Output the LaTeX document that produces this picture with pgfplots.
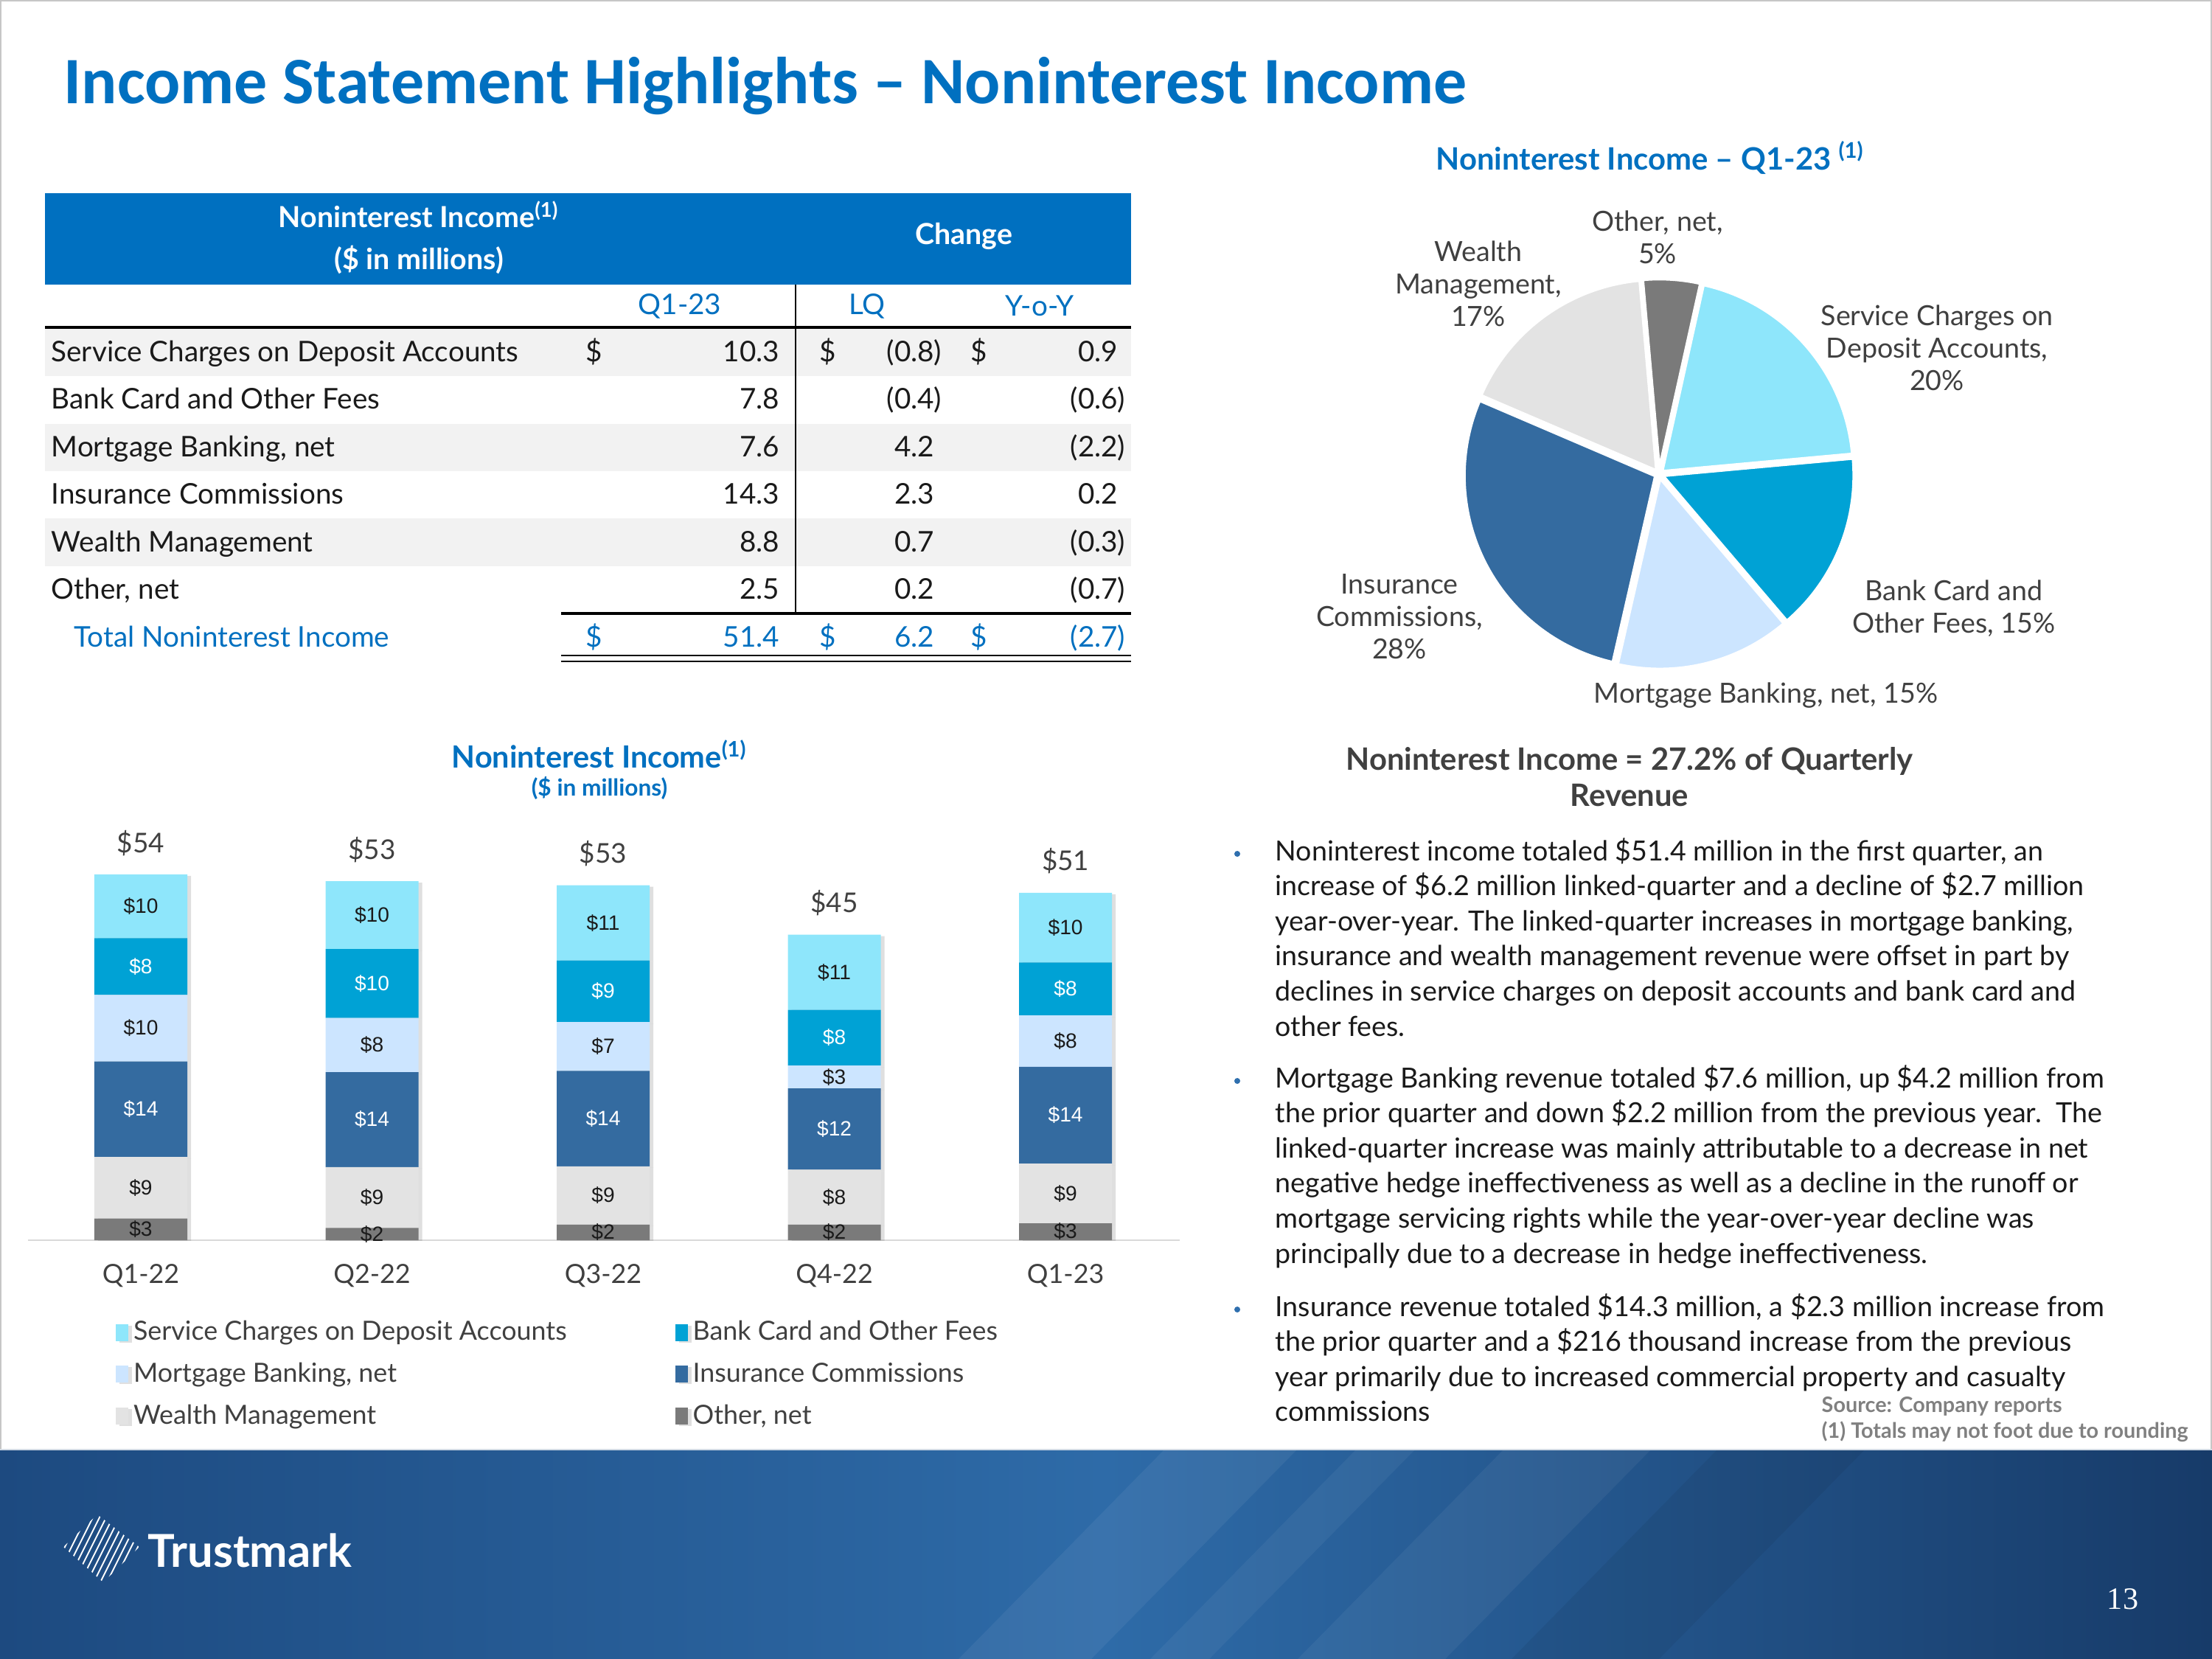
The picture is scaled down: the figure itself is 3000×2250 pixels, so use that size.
\documentclass[border=0pt]{standalone}
\usepackage{pgfplots}
\pgfplotsset{compat=1.18}
\usepackage{pgfplotstable}
\usepackage{fontspec}
\setmainfont{Lato}
\newfontfamily\calib{Carlito}
\newfontfamily\arialf{Liberation Sans}
\newfontfamily\serf{Liberation Serif}
\usetikzlibrary{shadows}

\definecolor{blueT}{HTML}{0070C0}
\definecolor{txt}{HTML}{1A1A1A}
\definecolor{txtgray}{HTML}{404040}
\definecolor{rowg}{HTML}{F2F2F2}
\definecolor{cSvc}{HTML}{8EE6FB}
\definecolor{cCard}{HTML}{00A2D5}
\definecolor{cMort}{HTML}{CCE5FF}
\definecolor{cIns}{HTML}{346BA0}
\definecolor{cWlth}{HTML}{E3E3E3}
\definecolor{cOth}{HTML}{7A7A7A}
\definecolor{axisgray}{HTML}{D9D9D9}
\definecolor{bnL}{HTML}{1D4A80}
\definecolor{bnM}{HTML}{2E6BA8}
\definecolor{bnR}{HTML}{173B69}
\definecolor{srcgray}{HTML}{808080}
\definecolor{bulletc}{HTML}{2F6FAE}

\newcommand\fsz[2]{\fontsize{#1pt}{#2pt}\selectfont}

% noninterest income by quarter, $ millions (x: 0=Q1-22 ... 4=Q1-23)
\pgfplotstableread{
x v lab
0 3.2 3
1 1.8 2
2 2.3 2
3 2.3 2
4 2.5 3
}\tOth
\pgfplotstableread{
x v lab
0 9.1 9
1 9.0 9
2 8.6 9
3 8.1 8
4 8.8 9
}\tWlth
\pgfplotstableread{
x v lab
0 14.1 14
1 14.0 14
2 14.1 14
3 12.0 12
4 14.3 14
}\tIns
\pgfplotstableread{
x v lab
0 9.8 10
1 8.0 8
2 7.2 7
3 3.4 3
4 7.6 8
}\tMort
\pgfplotstableread{
x v lab
0 8.4 8
1 10.2 10
2 9.1 9
3 8.2 8
4 7.8 8
}\tCard
\pgfplotstableread{
x v lab
0 9.4 10
1 10.0 10
2 11.1 11
3 11.1 11
4 10.3 10
}\tSvc
\pgfplotstableread{
x t lab
0 54.0 54
1 53.0 53
2 52.4 53
3 45.1 45
4 51.3 51
}\tTot

\pgfplotsset{
  seglab/.style={
    nodes near coords={\$\pgfplotspointmeta},
    point meta=explicit symbolic,
    every node near coord/.style={font=\arialf\fsz{8}{9.6}, text=#1, anchor=center}},
  segbar/.style={fill=#1, draw=none, drop shadow={shadow xshift=0.5mm, shadow yshift=-0.2mm, opacity=0.25}},
  barbox/.style={at={(3.8mm,-168.2mm)}, anchor=south west,
    scale only axis, width=156.2mm, height=64.3mm,
    ymin=0, ymax=70, xmin=-0.488, xmax=4.494},
}

\begin{document}
\begin{tikzpicture}
\begin{scope}[x=0.1mm, y=0.1mm]
\path[use as bounding box, fill=white] (0,0) rectangle (3000,-2250);
\draw[gray!45, line width=0.6pt] (1,-1965) -- (1,-1) -- (2999,-1) -- (2999,-1965);

% title
\node[anchor=base west, inner sep=0, text=blueT, font=\calib\bfseries\fsz{25.6}{30}] at (86,-141)
  {Income Statement Highlights – Noninterest Income};

% ---------------- table ----------------
\fill[blueT] (61,-262) rectangle (1534,-386);
\node[text=white, font=\bfseries\fsz{11.2}{13.4}] at (568,-291) {Noninterest Income\textsuperscript{(1)}};
\node[text=white, font=\bfseries\fsz{11.2}{13.4}] at (568,-352) {(\$ in millions)};
\node[text=white, font=\bfseries\fsz{11.2}{13.4}] at (1307,-320) {Change};
\begin{scope}[font=\fsz{11}{13.2}, text=blueT]
\node at (922,-415) {Q1-23};
\node at (1176,-415) {LQ};
\node at (1410,-415) {Y-o-Y};
\end{scope}
\fill[rowg] (61,-446) rectangle (1534,-510);
\fill[rowg] (61,-575) rectangle (1534,-639);
\fill[rowg] (61,-703) rectangle (1534,-768);
\draw[black, line width=1pt] (61,-444) -- (1534,-444);
\draw[black, line width=0.6pt] (1079,-386) -- (1079,-832);
\begin{scope}[font=\fsz{11}{13.2}, text=txt]
\foreach \lab/\q/\lq/\yy [count=\i from 0] in {
  {Service Charges on Deposit Accounts}/10.3/(0.8)/0.9\phantom{)},
  {Bank Card and Other Fees}/7.8/(0.4)/(0.6),
  {Mortgage Banking, net}/7.6/4.2\phantom{)}/(2.2),
  {Insurance Commissions}/14.3/2.3\phantom{)}/0.2\phantom{)},
  {Wealth Management}/8.8/0.7\phantom{)}/(0.3),
  {Other, net}/2.5/0.2\phantom{)}/(0.7)}{
  \node[anchor=base west, inner sep=0] at (69,{-(490+\i*64.5)}) {\lab};
  \node[anchor=base east, inner sep=0] at (1058,{-(490+\i*64.5)}) {\q};
  \node[anchor=base east, inner sep=0] at (1278,{-(490+\i*64.5)}) {\lq};
  \node[anchor=base east, inner sep=0] at (1527,{-(490+\i*64.5)}) {\yy};
}
\node[anchor=base west, inner sep=0] at (794,-490) {\$};
\node[anchor=base west, inner sep=0] at (1111,-490) {\$};
\node[anchor=base west, inner sep=0] at (1316,-490) {\$};
\end{scope}
\draw[black, line width=1pt] (761,-832) -- (1534,-832);
\begin{scope}[font=\fsz{11}{13.2}, text=blueT]
\node[anchor=base west, inner sep=0] at (100,-877) {Total Noninterest Income};
\node[anchor=base west, inner sep=0] at (794,-877) {\$};
\node[anchor=base west, inner sep=0] at (1111,-877) {\$};
\node[anchor=base west, inner sep=0] at (1316,-877) {\$};
\node[anchor=base east, inner sep=0] at (1058,-877) {51.4};
\node[anchor=base east, inner sep=0] at (1278,-877) {6.2\phantom{)}};
\node[anchor=base east, inner sep=0] at (1527,-877) {(2.7)};
\end{scope}
\draw[black, line width=0.6pt] (761,-889) -- (1534,-889);
\draw[black, line width=0.6pt] (761,-897) -- (1534,-897);

% chart titles
\node[text=blueT, font=\bfseries\fsz{11.8}{14}] at (813,-1023) {Noninterest Income\textsuperscript{(1)}};
\node[text=blueT, font=\bfseries\fsz{9}{11}] at (813,-1069) {(\$ in millions)};
\node[text=blueT, font=\bfseries\fsz{11.9}{14}] at (2238,-214) {Noninterest Income – Q1-23 \textsuperscript{(1)}};

% pie labels
\begin{scope}[font=\fsz{10.7}{12.5}, text=txtgray, align=center]
\node at (2248,-322) {Other, net,\\5\%};
\node at (2005,-385) {Wealth\\Management,\\17\%};
\node at (2627,-472) {Service Charges on\\Deposit Accounts,\\20\%};
\node at (2650,-825) {Bank Card and\\Other Fees, 15\%};
\node at (2395,-943) {Mortgage Banking, net, 15\%};
\node at (1898,-836) {Insurance\\Commissions,\\28\%};
\end{scope}

\node[text=txtgray, font=\bfseries\fsz{11.9}{14}, align=center] at (2210,-1054)
  {Noninterest Income = 27.2\% of Quarterly\\Revenue};

% ---------------- bullets ----------------
\begin{scope}[font=\fsz{10.7}{13.5}, text=txt]
\foreach \t [count=\i from 0] in {
  {Noninterest income totaled \$51.4 million in the first quarter, an},
  {increase of \$6.2 million linked-quarter and a decline of \$2.7 million},
  {year-over-year. The linked-quarter increases in mortgage banking,},
  {insurance and wealth management revenue were offset in part by},
  {declines in service charges on deposit accounts and bank card and},
  {other fees.}}
  \node[anchor=base west, inner sep=0] at (1729,{-(1167+\i*47.6)}) {\t};
\foreach \t [count=\i from 0] in {
  {Mortgage Banking revenue totaled \$7.6 million, up \$4.2 million from},
  {the prior quarter and down \$2.2 million from the previous year.\ \ The},
  {linked-quarter increase was mainly attributable to a decrease in net},
  {negative hedge ineffectiveness as well as a decline in the runoff or},
  {mortgage servicing rights while the year-over-year decline was},
  {principally due to a decrease in hedge ineffectiveness.}}
  \node[anchor=base west, inner sep=0] at (1729,{-(1475+\i*47.6)}) {\t};
\foreach \t [count=\i from 0] in {
  {Insurance revenue totaled \$14.3 million, a \$2.3 million increase from},
  {the prior quarter and a \$216 thousand increase from the previous},
  {year primarily due to increased commercial property and casualty},
  {commissions}}
  \node[anchor=base west, inner sep=0] at (1729,{-(1785+\i*47.6)}) {\t};
\end{scope}
\fill[bulletc] (1678,-1158) circle (4);
\fill[bulletc] (1678,-1466) circle (4);
\fill[bulletc] (1678,-1776) circle (4);

\node[anchor=west, inner sep=0, text=srcgray, font=\bfseries\fsz{8.2}{9.5}] at (2470,-1907) {Source: Company reports};
\node[anchor=west, inner sep=0, text=srcgray, font=\bfseries\fsz{8.2}{9.5}] at (2470,-1942) {(1) Totals may not foot due to rounding};

% ---------------- footer banner ----------------
\shade[left color=bnL, right color=bnR, middle color=bnM] (0,-1965) rectangle (3000,-2250);
\fill[white, opacity=0.06] (1300,-2250) -- (1480,-2250) -- (1760,-1965) -- (1580,-1965) -- cycle;
\fill[white, opacity=0.05] (1560,-2250) -- (1640,-2250) -- (1920,-1965) -- (1840,-1965) -- cycle;
\fill[white, opacity=0.05] (1760,-2250) -- (1960,-2250) -- (2240,-1965) -- (2040,-1965) -- cycle;
\fill[black, opacity=0.06] (2050,-2250) -- (2250,-2250) -- (2530,-1965) -- (2330,-1965) -- cycle;
\draw[white!80!bnL, line width=0.8pt] (0,-1966) -- (3000,-1966);
\begin{scope}
\clip (86,-2098) -- (132,-2054) -- (189,-2098) -- (140,-2146) -- cycle;
\foreach \k in {0,...,16} \draw[white, line width=0.55pt] ({30+\k*9},-2160) -- ({90+\k*9},-2040);
\end{scope}
\node[anchor=base west, inner sep=0, text=white, font=\bfseries\fsz{17.5}{20}] at (200,-2125) {Trustmark};
\node[text=white, font=\serf\fsz{12}{14}] at (2879,-2169) {13};
\end{scope}

% ---------------- stacked bar chart ----------------
\begin{axis}[
  barbox,
  axis y line=none, axis x line*=bottom,
  x axis line style={draw=axisgray, line width=0.8pt, -},
  ybar stacked, bar width=12.6mm,
  xtick={0,1,2,3,4}, xticklabels={Q1-22,Q2-22,Q3-22,Q4-22,Q1-23},
  major tick length=0pt,
  xticklabel style={font=\fsz{10.2}{12.2}, text=txtgray, yshift=-2mm},
  reverse legend, legend cell align=left,
  legend columns=2,
  legend image code/.code={\fill[#1, draw=none] (0mm,-1.15mm) rectangle (1.7mm,1.15mm);},
  legend style={draw=none, fill=none, font=\fsz{10.2}{12.2}, text=txtgray,
    at={(axis description cs:0.069,-0.147)}, anchor=north west,
    /tikz/every even column/.append style={column sep=14mm}, row sep=1.1mm},
]
\addplot[segbar=cOth, seglab=txt] table[x=x, y=v, meta=lab] {\tOth};
\addlegendentry{Other, net}
\addplot[segbar=cWlth, seglab=txt] table[x=x, y=v, meta=lab] {\tWlth};
\addlegendentry{Wealth Management}
\addplot[segbar=cIns, seglab=white] table[x=x, y=v, meta=lab] {\tIns};
\addlegendentry{Insurance Commissions}
\addplot[segbar=cMort, seglab=txt] table[x=x, y=v, meta=lab] {\tMort};
\addlegendentry{Mortgage Banking, net}
\addplot[segbar=cCard, seglab=white] table[x=x, y=v, meta=lab] {\tCard};
\addlegendentry{Bank Card and Other Fees}
\addplot[segbar=cSvc, seglab=txt] table[x=x, y=v, meta=lab] {\tSvc};
\addlegendentry{Service Charges on Deposit Accounts}
\end{axis}
% totals above the bars
\begin{axis}[barbox, hide axis]
\addplot[draw=none, mark=none,
  nodes near coords={\$\pgfplotspointmeta}, point meta=explicit symbolic,
  every node near coord/.style={font=\fsz{10.5}{12.6}, text=txtgray, anchor=south, yshift=1.3mm}]
  table[x=x, y=t, meta=lab] {\tTot};
\end{axis}

% ---------------- pie chart ----------------
\begin{axis}[at={(225mm,-64.3mm)}, anchor=center, hide axis, scale only axis,
  width=60mm, height=60mm, xmin=-300, xmax=300, ymin=-300, ymax=300, clip=false]
\pgfplotsextra{%
  \gdef\pieA{77.5}%
  \foreach \v/\c in {10.3/cSvc, 7.8/cCard, 7.6/cMort, 14.3/cIns, 8.8/cWlth, 2.5/cOth}{%
    \pgfmathsetmacro\pieB{\pieA-\v/51.3*360}%
    \pgfmathsetmacro\pieM{(\pieA+\pieB)/2}%
    \fill[\c, draw=white, line width=1.3pt, shift={(\pieM:0.5mm)}]
      (axis cs:0,0) -- (axis cs:{260*cos(\pieA)},{260*sin(\pieA)})
      arc[start angle=\pieA, end angle=\pieB, radius=26mm] -- cycle;
    \xdef\pieA{\pieB}%
  }}
\end{axis}
\end{tikzpicture}
\end{document}
